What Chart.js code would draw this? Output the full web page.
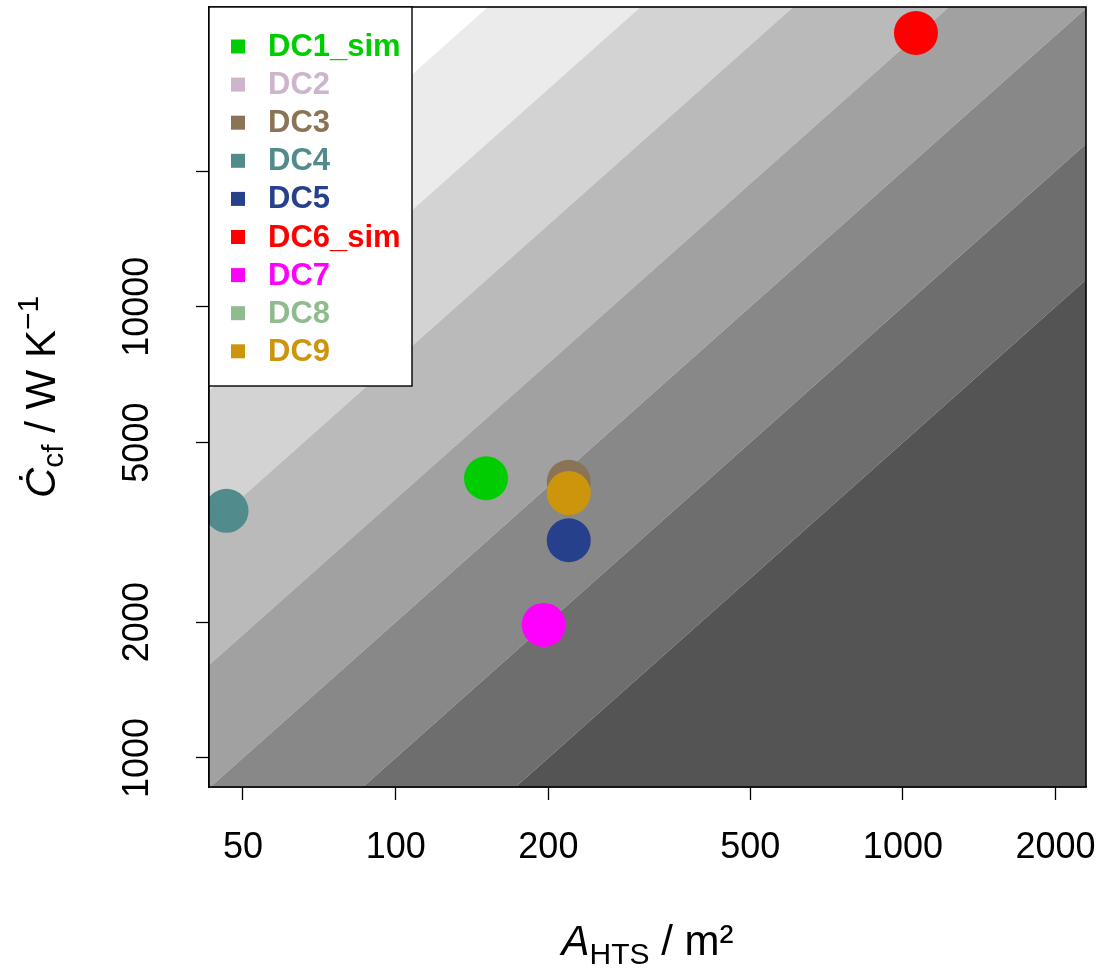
<!DOCTYPE html>
<html lang="en">
<head>
<meta charset="UTF-8">
<title>Cooling capacity vs HTS area</title>
<script src="https://cdn.jsdelivr.net/npm/chart.js"></script>
<style>
  body { margin: 0; background: #fff; }
  #wrap { width: 1102px; height: 968px; position: relative; }
</style>
</head>
<body>
<div id="wrap"><canvas id="chart"></canvas></div>
<script>
// data centres
const labels = ['DC1_sim', 'DC2', 'DC3', 'DC4', 'DC5', 'DC6_sim', 'DC7', 'DC8', 'DC9'];
const colors = ['#00cd00', '#cdb5cd', '#8b7355', '#528b8b', '#27408b', '#ff0000', '#ff00ff', '#8fbc8f', '#cd950c'];
const areaHTS = [150.7, null, 219.4, 46.4, 219.4, 1061, 195.8, null, 219.4];   // m²
const capacity = [4168, null, 4093, 3530, 3038, 40450, 1972, null, 3864];    // W/K

// axes
const xTicks = [50, 100, 200, 500, 1000, 2000];
const yTicks = [1000, 2000, 5000, 10000, 20000];
const yTickLabels = ['1000', '2000', '5000', '10000', ''];
const xRange = [42.85, 2296];
const yRange = [862, 46200];

// background bands: C/A ratio at each boundary, colour of the band below it
const bandRatios = [5, 10, 20, 37.5, 76, 152, 304];
const bandColors = ['#545454', '#6e6e6e', '#888888', '#a1a1a1', '#bababa', '#d3d3d3', '#ebebeb'];

const FONT = "'Liberation Sans', Arial, sans-serif";

const pointSets = labels.map((lab, i) => ({
    type: 'scatter',
    label: lab,
    data: areaHTS[i] == null ? [] : [{ x: areaHTS[i], y: capacity[i] }],
    backgroundColor: colors[i],
    borderWidth: 0,
    pointRadius: 22,
    pointHoverRadius: 22,
    order: labels.length - i
}));

const bandSets = bandRatios.map((r, i) => ({
    type: 'line',
    label: 'band' + i,
    isBand: true,
    data: xRange.map(x => ({ x: x, y: r * x })),
    borderColor: 'rgba(0,0,0,0)',
    borderWidth: 0,
    pointRadius: 0,
    tension: 0,
    fill: i === 0 ? 'start' : '-1',
    backgroundColor: bandColors[i],
    order: 100 + i
}));

function richText(ctx, parts, x, y, angle) {
    ctx.save();
    ctx.translate(x, y);
    ctx.rotate(angle);
    ctx.textBaseline = 'alphabetic';
    ctx.textAlign = 'left';
    let total = 0;
    parts.forEach(p => { ctx.font = p.font; p.w = ctx.measureText(p.text).width; total += p.w; });
    let cx = -total / 2;
    parts.forEach(p => {
        ctx.font = p.font;
        ctx.fillText(p.text, cx, p.dy || 0);
        cx += p.w;
    });
    ctx.restore();
}

const decor = {
    id: 'decor',
    afterDraw(chart) {
        const { ctx, chartArea: a } = chart;
        ctx.save();

        // plot box
        ctx.strokeStyle = '#000';
        ctx.lineWidth = 1.6;
        ctx.strokeRect(a.left, a.top, a.right - a.left, a.bottom - a.top);

        // legend
        ctx.fillStyle = '#fff';
        ctx.fillRect(a.left, a.top, 203, 379);
        ctx.lineWidth = 1.4;
        ctx.strokeRect(a.left, a.top, 203, 379);
        const items = chart.data.datasets.filter(d => !d.isBand);
        ctx.font = 'bold 31px ' + FONT;
        ctx.textBaseline = 'middle';
        items.forEach((d, i) => {
            const yy = a.top + 39.5 + i * 38.1;
            ctx.fillStyle = d.backgroundColor;
            ctx.fillRect(a.left + 22, yy - 7, 14, 14);
            ctx.fillText(d.label, a.left + 59, yy + 1);
        });

        // axis titles
        ctx.fillStyle = '#000';
        const big = '42px ' + FONT, small = '30px ' + FONT;
        richText(ctx, [
            { text: 'A', font: 'italic ' + big },
            { text: 'HTS', font: small, dy: 9 },
            { text: ' / m²', font: big }
        ], (a.left + a.right) / 2, 955, 0);
        richText(ctx, [
            { text: 'Ċ', font: 'italic ' + big },
            { text: 'cf', font: small, dy: 8 },
            { text: ' / W K', font: big },
            { text: '−1', font: small, dy: -17 }
        ], 55, (a.top + a.bottom) / 2, -Math.PI / 2);
        ctx.restore();
    }
};

const tickGrid = { drawOnChartArea: false, drawTicks: true, tickLength: 13, tickColor: '#000', tickWidth: 1.3 };

new Chart(document.getElementById('chart'), {
    type: 'scatter',
    data: { datasets: pointSets.concat(bandSets) },
    options: {
        responsive: true,
        maintainAspectRatio: false,
        animation: false,
        events: [],
        layout: { autoPadding: false, padding: { top: 7, right: 16, left: 0, bottom: 0 } },
        plugins: { legend: { display: false }, tooltip: { enabled: false } },
        scales: {
            x: {
                type: 'logarithmic',
                min: xRange[0],
                max: xRange[1],
                afterBuildTicks: s => { s.ticks = xTicks.map(v => ({ value: v })); },
                afterFit: s => { s.height = 181; s.paddingLeft = 0; s.paddingRight = 0; },
                ticks: {
                    callback: (v, i) => String(xTicks[i]),
                    font: { family: FONT, size: 36 },
                    color: '#000',
                    padding: 26,
                    autoSkip: false,
                    minRotation: 0,
                    maxRotation: 0
                },
                grid: tickGrid,
                border: { display: true, color: '#000', width: 1.5 }
            },
            y: {
                type: 'logarithmic',
                min: yRange[0],
                max: yRange[1],
                afterBuildTicks: s => { s.ticks = yTicks.map(v => ({ value: v })); },
                afterFit: s => { s.width = 209; s.paddingTop = 0; s.paddingBottom = 0; },
                ticks: {
                    callback: (v, i) => yTickLabels[i],
                    font: { family: FONT, size: 36 },
                    color: '#000',
                    padding: 8,
                    autoSkip: false,
                    minRotation: 90,
                    maxRotation: 90,
                    crossAlign: 'center'
                },
                grid: tickGrid,
                border: { display: true, color: '#000', width: 1.5 }
            }
        }
    },
    plugins: [decor]
});
</script>
</body>
</html>
